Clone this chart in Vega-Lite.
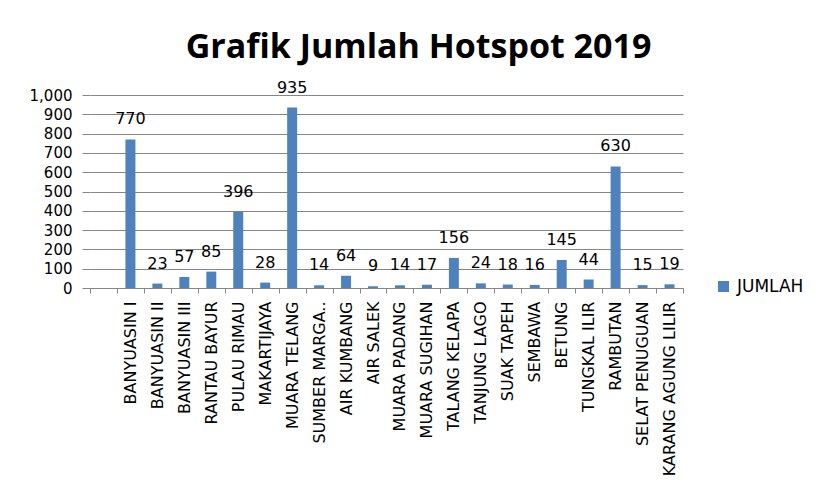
{
  "$schema": "https://vega.github.io/schema/vega-lite/v6.json",
  "width": 593,
  "height": 193,
  "autosize": {"type": "none"},
  "padding": {"left": 90, "top": 95, "right": 149, "bottom": 214},
  "background": "white",
  "title": {
    "text": "Grafik Jumlah Hotspot 2019",
    "font": "Open Sans",
    "fontSize": 34,
    "fontWeight": "bold",
    "color": "#000000",
    "anchor": "middle",
    "dx": 32,
    "baseline": "alphabetic",
    "offset": -12
  },
  "data": {
    "values": [
      {"kecamatan": "BANYUASIN I", "jumlah": 770},
      {"kecamatan": "BANYUASIN II", "jumlah": 23},
      {"kecamatan": "BANYUASIN III", "jumlah": 57},
      {"kecamatan": "RANTAU BAYUR", "jumlah": 85},
      {"kecamatan": "PULAU RIMAU", "jumlah": 396},
      {"kecamatan": "MAKARTIJAYA", "jumlah": 28},
      {"kecamatan": "MUARA TELANG", "jumlah": 935},
      {"kecamatan": "SUMBER MARGA..", "jumlah": 14},
      {"kecamatan": "AIR KUMBANG", "jumlah": 64},
      {"kecamatan": "AIR SALEK", "jumlah": 9},
      {"kecamatan": "MUARA PADANG", "jumlah": 14},
      {"kecamatan": "MUARA SUGIHAN", "jumlah": 17},
      {"kecamatan": "TALANG KELAPA", "jumlah": 156},
      {"kecamatan": "TANJUNG LAGO", "jumlah": 24},
      {"kecamatan": "SUAK TAPEH", "jumlah": 18},
      {"kecamatan": "SEMBAWA", "jumlah": 16},
      {"kecamatan": "BETUNG", "jumlah": 145},
      {"kecamatan": "TUNGKAL ILIR", "jumlah": 44},
      {"kecamatan": "RAMBUTAN", "jumlah": 630},
      {"kecamatan": "SELAT PENUGUAN", "jumlah": 15},
      {"kecamatan": "KARANG AGUNG LILIR", "jumlah": 19}
    ]
  },
  "encoding": {
    "x": {
      "field": "kecamatan",
      "type": "nominal",
      "scale": {
        "domain": [" ", "BANYUASIN I", "BANYUASIN II", "BANYUASIN III", "RANTAU BAYUR", "PULAU RIMAU", "MAKARTIJAYA", "MUARA TELANG", "SUMBER MARGA..", "AIR KUMBANG", "AIR SALEK", "MUARA PADANG", "MUARA SUGIHAN", "TALANG KELAPA", "TANJUNG LAGO", "SUAK TAPEH", "SEMBAWA", "BETUNG", "TUNGKAL ILIR", "RAMBUTAN", "SELAT PENUGUAN", "KARANG AGUNG LILIR"],
        "paddingInner": 0,
        "paddingOuter": 0
      },
      "axis": {
        "title": null,
        "labelAngle": -90,
        "labelAlign": "right",
        "labelBaseline": "middle",
        "labelFont": "DejaVu Sans",
        "labelFontSize": 16,
        "labelColor": "#000000",
        "labelPadding": 8,
        "labelLimit": 300,
        "tickBand": "extent",
        "tickSize": 5,
        "tickColor": "#868686",
        "domainColor": "#868686",
        "grid": false
      }
    },
    "y": {
      "field": "jumlah",
      "type": "quantitative",
      "scale": {"domain": [0, 1000], "nice": false},
      "axis": {
        "title": null,
        "values": [0, 100, 200, 300, 400, 500, 600, 700, 800, 900, 1000],
        "format": ",d",
        "labelFont": "DejaVu Sans",
        "labelFontSize": 15,
        "labelColor": "#000000",
        "labelPadding": 10,
        "tickSize": 8,
        "tickColor": "#868686",
        "gridColor": "#868686",
        "grid": true,
        "domain": false
      }
    }
  },
  "layer": [
    {
      "mark": {"type": "bar", "color": "#4F81BD", "width": {"band": 0.37}},
      "encoding": {
        "color": {
          "datum": "JUMLAH",
          "type": "nominal",
          "scale": {"range": ["#4F81BD"]},
          "legend": {
            "title": null,
            "orient": "none",
            "legendX": 625,
            "legendY": 183,
            "padding": 0,
            "symbolType": "square",
            "symbolSize": 121,
            "symbolStrokeWidth": 0,
            "labelFont": "DejaVu Sans",
            "labelFontSize": 17,
            "labelColor": "#000000",
            "labelOffset": 5
          }
        }
      }
    },
    {
      "mark": {
        "type": "text",
        "baseline": "alphabetic",
        "dy": -15,
        "font": "DejaVu Sans",
        "fontSize": 16,
        "color": "#000000"
      },
      "encoding": {"text": {"field": "jumlah", "type": "quantitative"}}
    }
  ],
  "config": {"view": {"stroke": null}}
}
